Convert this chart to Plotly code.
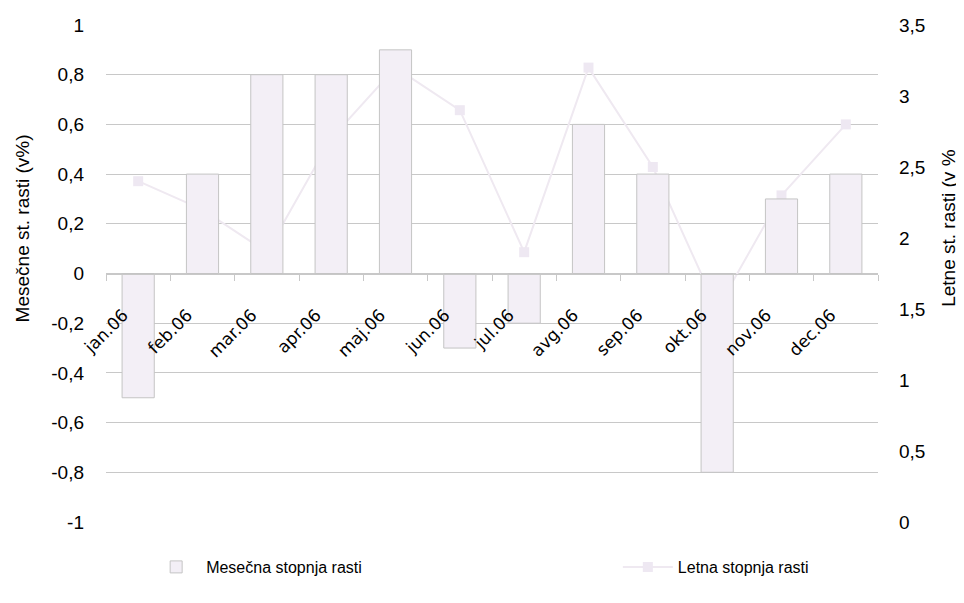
import plotly.graph_objects as go

months = ["jan.06", "feb.06", "mar.06", "apr.06", "maj.06", "jun.06",
          "jul.06", "avg.06", "sep.06", "okt.06", "nov.06", "dec.06"]
mesecna = [-0.5, 0.4, 0.8, 0.8, 0.9, -0.3, -0.2, 0.6, 0.4, -0.8, 0.3, 0.4]
letna = [2.4, 2.2, 1.9, 2.7, 3.2, 2.9, 1.9, 3.2, 2.5, 1.5, 2.3, 2.8]

left_ticks = [-1, -0.8, -0.6, -0.4, -0.2, 0, 0.2, 0.4, 0.6, 0.8, 1]
left_labels = ["-1", "-0,8", "-0,6", "-0,4", "-0,2", "0", "0,2", "0,4", "0,6", "0,8", "1"]
right_ticks = [0, 0.5, 1, 1.5, 2, 2.5, 3, 3.5]
right_labels = ["0", "0,5", "1", "1,5", "2", "2,5", "3", "3,5"]

SANS = "Liberation Sans, Arial, sans-serif"
GRID = "#c8c8c8"

fig = go.Figure()

# Line on the main (right) axis so that the bars (overlay) are drawn above it
fig.add_trace(go.Scatter(
    x=months, y=letna, yaxis="y", name="Letna stopnja rasti",
    mode="lines+markers",
    line=dict(color="#efe9f1", width=2),
    marker=dict(symbol="square", size=10, color="#eee8f2"),
    legend="legend2",
))

fig.add_trace(go.Bar(
    x=months, y=mesecna, yaxis="y2", name="Mesečna stopnja rasti",
    marker=dict(color="#f3eff6", line=dict(color="#c4c4c4", width=1)),
    width=0.5,
    legend="legend",
))

# The page body has an 8px margin, so the figure is sized/offset to fill the window.
fig.update_layout(
    width=956, height=595,
    margin=dict(l=98, r=86, t=17, b=81, autoexpand=False),
    paper_bgcolor="white", plot_bgcolor="white",
    showlegend=True,
    xaxis=dict(
        type="category", anchor="free", position=0.5, automargin=False,
        range=[-0.5, len(months) - 0.5],
        showgrid=False, showline=True, linecolor=GRID, linewidth=1,
        ticks="outside", tickson="boundaries", ticklen=6, tickcolor=GRID,
        tickangle=-45, ticklabelstandoff=24, ticklabelshift=-15,
        tickfont=dict(family="DejaVu Sans", size=17, color="black"),
        zeroline=False,
    ),
    yaxis=dict(
        side="right", range=[0, 3.5], tickvals=right_ticks, ticktext=right_labels,
        showgrid=False, zeroline=False, showline=False, ticks="", automargin=False,
        tickfont=dict(family=SANS, size=19, color="black"),
        ticklabelstandoff=20,
    ),
    yaxis2=dict(
        side="left", overlaying="y", range=[-1, 1], automargin=False,
        tickvals=left_ticks, ticktext=left_labels,
        showgrid=True, gridcolor=GRID, gridwidth=1,
        zeroline=False, showline=False, ticks="",
        tickfont=dict(family=SANS, size=19, color="black"),
        ticklabelstandoff=21,
    ),
    legend=dict(
        orientation="h", x=0.052, y=0.0605, xref="paper", yref="container",
        xanchor="left", yanchor="middle",
        font=dict(family=SANS, size=16, color="black"),
        bgcolor="rgba(0,0,0,0)", itemwidth=50,
    ),
    legend2=dict(
        orientation="h", x=0.663, y=0.0605, xref="paper", yref="container",
        xanchor="left", yanchor="middle",
        font=dict(family=SANS, size=16, color="black"),
        bgcolor="rgba(0,0,0,0)", itemwidth=50,
    ),
    annotations=[
        dict(text="Mesečne st. rasti (v%)", xref="paper", yref="paper",
             x=-0.108, y=0.59, xanchor="center", yanchor="middle",
             textangle=-90, showarrow=False,
             font=dict(family=SANS, size=19, color="black")),
        dict(text="Letne st. rasti (v %", xref="paper", yref="paper",
             x=1.092, y=0.59, xanchor="center", yanchor="middle",
             textangle=-90, showarrow=False,
             font=dict(family=SANS, size=19, color="black")),
    ],
)

fig.write_html("out.html")
